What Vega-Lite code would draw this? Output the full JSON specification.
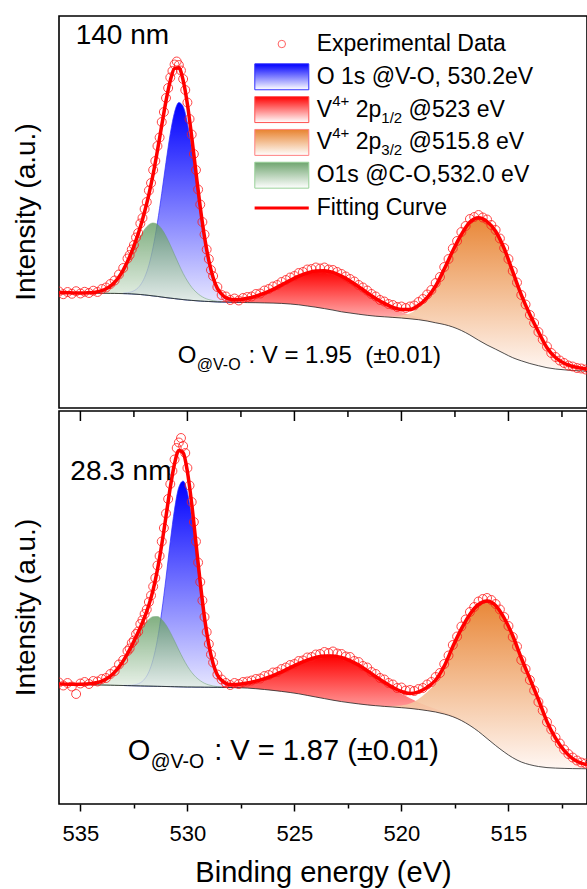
{
"$schema": "https://vega.github.io/schema/vega-lite/v6.json",
"background": "white",
"padding": {"left": 12, "top": 15, "right": 0, "bottom": 0},
"spacing": 0,
"config": {"font": "Liberation Sans", "view": {"stroke": "black", "strokeWidth": 1.6}, "axis": {"labelFont": "Liberation Sans", "titleFont": "Liberation Sans", "titleFontWeight": "normal", "labelColor": "black", "titleColor": "black", "tickColor": "black", "grid": false}, "text": {"font": "Liberation Sans", "color": "black"}, "concat": {"spacing": 0}},
"datasets": {
"tc": [
{"e":536.0,"bg":115.3,"fit":115.3},{"e":535.8,"bg":115.2,"fit":115.2},{"e":535.6,"bg":115.2,"fit":115.2},{"e":535.4,"bg":115.1,"fit":115.1},{"e":535.2,"bg":115.0,"fit":115.0},
{"e":535.0,"bg":115.0,"fit":115.1,"g":115.1},{"e":534.8,"bg":114.9,"fit":115.1,"g":115.1},{"e":534.6,"bg":114.9,"fit":115.3,"g":115.3},{"e":534.4,"bg":114.8,"fit":115.6,"g":115.6},{"e":534.2,"bg":114.8,"fit":116.3,"g":116.3},
{"e":534.0,"bg":114.7,"fit":117.4,"g":117.4},{"e":533.8,"bg":114.7,"fit":119.2,"g":119.2},{"e":533.6,"bg":114.6,"fit":121.9,"g":121.9},{"e":533.4,"bg":114.6,"fit":125.8,"g":125.8},{"e":533.2,"bg":114.5,"fit":131.0,"g":130.9},
{"e":533.0,"bg":114.4,"fit":137.9,"g":137.5,"b":114.8},{"e":532.8,"bg":114.3,"fit":146.5,"g":145.5,"b":115.3},{"e":532.6,"bg":114.1,"fit":156.4,"g":154.2,"b":116.3},{"e":532.4,"bg":113.8,"fit":167.9,"g":163.2,"b":118.5},{"e":532.2,"bg":113.5,"fit":181.1,"g":171.7,"b":122.9},
{"e":532.0,"bg":113.1,"fit":196.2,"g":178.7,"b":130.6},{"e":531.8,"bg":112.6,"fit":213.6,"g":183.3,"b":142.9},{"e":531.6,"bg":112.1,"fit":234.0,"g":185.0,"b":161.1},{"e":531.4,"bg":111.6,"fit":257.5,"g":183.6,"b":185.5},{"e":531.2,"bg":111.0,"fit":282.6,"g":179.0,"b":214.6},
{"e":531.0,"bg":110.4,"fit":307.1,"g":171.8,"b":245.7},{"e":530.8,"bg":109.9,"fit":327.4,"g":162.9,"b":274.4},{"e":530.6,"bg":109.4,"fit":339.6,"g":153.2,"b":295.8},{"e":530.4,"bg":108.9,"fit":340.2,"g":143.6,"b":305.5},{"e":530.2,"bg":108.4,"fit":327.7,"g":134.6,"b":301.5},
{"e":530.0,"bg":108.0,"fit":303.7,"g":127.0,"b":284.7},{"e":529.8,"bg":107.6,"fit":271.2,"g":120.7,"b":258.1},{"e":529.6,"bg":107.3,"fit":235.5,"g":116.0,"b":226.8},{"e":529.4,"bg":107.0,"fit":200.8,"g":112.5,"b":195.3},{"e":529.2,"bg":106.7,"fit":170.9,"g":110.0,"b":167.6},
{"e":529.0,"bg":106.5,"fit":147.4,"g":108.4,"b":145.5},{"e":528.8,"bg":106.3,"fit":130.6,"g":107.4,"b":129.5},{"e":528.6,"bg":106.1,"fit":119.6,"g":106.7,"b":119.0},{"e":528.4,"bg":106.0,"fit":113.9,"g":106.3,"b":112.7,"r":106.9},{"e":528.2,"bg":105.9,"fit":110.2,"b":109.1,"r":107.0},
{"e":528.0,"bg":105.8,"fit":108.8,"b":107.3,"r":107.3},{"e":527.8,"bg":105.7,"fit":108.3,"b":106.3,"r":107.7},{"e":527.6,"bg":105.6,"fit":108.4,"b":105.8,"r":108.2},{"e":527.2,"bg":105.4,"fit":109.7,"r":109.7},{"e":526.8,"bg":105.3,"fit":111.9,"r":111.9},
{"e":526.4,"bg":105.1,"fit":114.9,"r":114.9},{"e":526.0,"bg":104.9,"fit":118.7,"r":118.7},{"e":525.6,"bg":104.6,"fit":123.1,"r":123.1},{"e":525.2,"bg":104.0,"fit":127.6,"r":127.6},{"e":524.8,"bg":103.2,"fit":131.8,"r":131.8},
{"e":524.4,"bg":102.0,"fit":135.0,"r":135.0},{"e":524.0,"bg":100.8,"fit":137.0,"r":137.0},{"e":523.6,"bg":99.4,"fit":137.2,"r":137.2},{"e":523.2,"bg":97.9,"fit":135.6,"r":135.6},{"e":522.8,"bg":96.2,"fit":131.9,"r":131.9},
{"e":522.4,"bg":95.0,"fit":127.1,"r":127.1},{"e":522.0,"bg":93.8,"fit":121.4,"r":121.4},{"e":521.6,"bg":92.7,"fit":115.3,"r":115.2,"o":92.8},{"e":521.2,"bg":91.8,"fit":109.5,"r":109.3,"o":92.0},{"e":520.8,"bg":91.2,"fit":104.6,"r":104.2,"o":91.6},
{"e":520.4,"bg":90.6,"fit":100.7,"r":99.7,"o":91.6},{"e":520.0,"bg":90.0,"fit":98.6,"r":96.1,"o":92.5},{"e":519.6,"bg":89.2,"fit":98.6,"r":93.1,"o":94.7},{"e":519.2,"bg":88.3,"fit":102.7,"r":90.7,"o":100.3},{"e":518.8,"bg":87.0,"fit":110.4,"r":88.4,"o":109.0},
{"e":518.4,"bg":85.2,"fit":122.0,"r":86.0,"o":121.2},{"e":518.0,"bg":83.5,"fit":138.9,"r":83.9,"o":138.5},{"e":517.6,"bg":81.0,"fit":157.2,"r":81.2,"o":157.0},{"e":517.2,"bg":77.5,"fit":173.5,"o":173.5},{"e":516.8,"bg":73.0,"fit":186.0,"o":186.0},
{"e":516.4,"bg":67.8,"fit":190.3,"o":190.3},{"e":516.0,"bg":63.0,"fit":186.5,"o":186.5},{"e":515.6,"bg":58.8,"fit":176.8,"o":176.8},{"e":515.2,"bg":54.5,"fit":159.5,"o":159.5},{"e":514.8,"bg":50.3,"fit":136.3,"o":136.3},
{"e":514.4,"bg":47.2,"fit":113.2,"o":113.2},{"e":514.0,"bg":44.5,"fit":93.5,"o":93.5},{"e":513.6,"bg":42.3,"fit":76.3,"o":76.3},{"e":513.2,"bg":40.3,"fit":60.3,"o":60.3},{"e":512.8,"bg":39.0,"fit":50.5,"o":50.5},
{"e":512.4,"bg":38.2,"fit":44.7,"o":44.7},{"e":512.0,"bg":37.5,"fit":41.5,"o":41.5},{"e":511.6,"bg":37.1,"fit":39.9,"o":39.9},{"e":511.2,"bg":36.8,"fit":38.4,"o":38.4}
],
"tx": [
{"e":536.0,"v":116.5},{"e":535.8,"v":113.8},{"e":535.6,"v":116.0},{"e":535.4,"v":114.2},{"e":535.2,"v":116.8},{"e":535.0,"v":114.5},{"e":534.8,"v":116.2},{"e":534.6,"v":115.0},{"e":534.4,"v":117.3},{"e":534.2,"v":116.0},
{"e":534.0,"v":119.0},{"e":533.8,"v":120.5},{"e":533.6,"v":124.0},{"e":533.4,"v":127.5},{"e":533.2,"v":133.5},{"e":533.0,"v":140.0},{"e":532.8,"v":149.5},{"e":532.7,"v":153.0},{"e":532.6,"v":158.5},{"e":532.5,"v":163.0},
{"e":532.4,"v":170.5},{"e":532.3,"v":175.0},{"e":532.2,"v":184.5},{"e":532.1,"v":190.0},{"e":532.0,"v":199.0},{"e":531.9,"v":206.0},{"e":531.8,"v":217.5},{"e":531.7,"v":225.0},{"e":531.6,"v":238.0},{"e":531.5,"v":247.0},
{"e":531.4,"v":262.0},{"e":531.3,"v":270.5},{"e":531.2,"v":286.0},{"e":531.1,"v":296.0},{"e":531.0,"v":310.0},{"e":530.9,"v":320.0},{"e":530.8,"v":330.5},{"e":530.7,"v":337.0},{"e":530.6,"v":343.5},{"e":530.5,"v":346.5},
{"e":530.4,"v":343.0},{"e":530.3,"v":337.5},{"e":530.2,"v":329.0},{"e":530.1,"v":318.0},{"e":530.0,"v":305.5},{"e":529.9,"v":289.0},{"e":529.8,"v":273.5},{"e":529.7,"v":254.0},{"e":529.6,"v":238.0},{"e":529.5,"v":218.5},
{"e":529.4,"v":203.5},{"e":529.3,"v":186.0},{"e":529.2,"v":173.5},{"e":529.1,"v":158.5},{"e":529.0,"v":149.0},{"e":528.9,"v":138.0},{"e":528.8,"v":132.0},{"e":528.6,"v":121.0},{"e":528.4,"v":113.0},{"e":528.2,"v":111.5},
{"e":528.0,"v":108.0},{"e":527.8,"v":109.5},{"e":527.6,"v":107.5},{"e":527.4,"v":110.0},{"e":527.2,"v":111.0},{"e":527.0,"v":111.5},{"e":526.8,"v":114.0},{"e":526.6,"v":114.5},{"e":526.4,"v":117.5},{"e":526.2,"v":119.0},
{"e":526.0,"v":121.5},{"e":525.8,"v":123.0},{"e":525.6,"v":126.0},{"e":525.4,"v":128.0},{"e":525.2,"v":130.5},{"e":525.0,"v":132.0},{"e":524.8,"v":135.0},{"e":524.6,"v":136.0},{"e":524.4,"v":138.5},{"e":524.2,"v":139.0},
{"e":524.0,"v":140.5},{"e":523.8,"v":139.5},{"e":523.6,"v":140.5},{"e":523.4,"v":138.5},{"e":523.2,"v":138.0},{"e":523.0,"v":136.0},{"e":522.8,"v":134.0},{"e":522.6,"v":131.5},{"e":522.4,"v":129.0},{"e":522.2,"v":126.5},
{"e":522.0,"v":123.0},{"e":521.8,"v":120.5},{"e":521.6,"v":117.5},{"e":521.4,"v":114.0},{"e":521.2,"v":111.5},{"e":521.0,"v":108.0},{"e":520.8,"v":106.5},{"e":520.6,"v":104.0},{"e":520.4,"v":103.0},{"e":520.2,"v":101.0},
{"e":520.0,"v":101.5},{"e":519.8,"v":100.0},{"e":519.6,"v":101.5},{"e":519.4,"v":102.5},{"e":519.2,"v":106.0},{"e":519.0,"v":109.0},{"e":518.8,"v":113.5},{"e":518.6,"v":118.0},{"e":518.4,"v":125.0},{"e":518.2,"v":131.0},
{"e":518.0,"v":141.0},{"e":517.8,"v":149.0},{"e":517.6,"v":159.5},{"e":517.4,"v":167.0},{"e":517.2,"v":176.0},{"e":517.0,"v":182.0},{"e":516.8,"v":189.0},{"e":516.6,"v":191.0},{"e":516.4,"v":193.0},{"e":516.2,"v":190.5},
{"e":516.0,"v":188.5},{"e":515.8,"v":183.0},{"e":515.6,"v":178.0},{"e":515.4,"v":169.5},{"e":515.2,"v":160.0},{"e":515.0,"v":149.0},{"e":514.8,"v":137.0},{"e":514.6,"v":125.5},{"e":514.4,"v":113.0},{"e":514.2,"v":103.5},
{"e":514.0,"v":93.0},{"e":513.8,"v":85.0},{"e":513.6,"v":76.0},{"e":513.4,"v":68.5},{"e":513.2,"v":61.5},{"e":513.0,"v":55.0},{"e":512.8,"v":51.0},{"e":512.6,"v":47.5},{"e":512.4,"v":45.0},{"e":512.2,"v":42.5},
{"e":512.0,"v":41.5},{"e":511.8,"v":40.0},{"e":511.6,"v":39.5},{"e":511.4,"v":38.5},{"e":511.2,"v":38.0}
],
"bc": [
{"e":536.0,"bg":120.0,"fit":120.0},{"e":535.8,"bg":119.9,"fit":119.9},{"e":535.6,"bg":119.8,"fit":119.8},{"e":535.4,"bg":119.7,"fit":119.7},{"e":535.2,"bg":119.6,"fit":119.6},
{"e":535.0,"bg":119.5,"fit":119.8,"g":119.8},{"e":534.8,"bg":119.4,"fit":119.9,"g":119.9},{"e":534.6,"bg":119.3,"fit":120.2,"g":120.2},{"e":534.4,"bg":119.2,"fit":120.7,"g":120.7},{"e":534.2,"bg":119.1,"fit":121.5,"g":121.5},
{"e":534.0,"bg":119.0,"fit":122.9,"g":122.9},{"e":533.8,"bg":118.9,"fit":125.0,"g":125.0},{"e":533.6,"bg":118.8,"fit":127.9,"g":127.9},{"e":533.4,"bg":118.7,"fit":131.9,"g":131.9},{"e":533.2,"bg":118.6,"fit":136.9,"g":136.9},
{"e":533.0,"bg":118.5,"fit":143.1,"g":143.0,"b":118.6},{"e":532.8,"bg":118.4,"fit":150.4,"g":150.2,"b":118.6},{"e":532.6,"bg":118.3,"fit":158.4,"g":157.9,"b":118.8},{"e":532.4,"bg":118.2,"fit":167.2,"g":165.9,"b":119.5},{"e":532.2,"bg":118.1,"fit":176.5,"g":173.4,"b":121.2},
{"e":532.0,"bg":118.0,"fit":186.9,"g":179.9,"b":125.0},{"e":531.8,"bg":117.9,"fit":199.0,"g":184.7,"b":132.2},{"e":531.6,"bg":117.8,"fit":214.3,"g":187.3,"b":144.8},{"e":531.4,"bg":117.7,"fit":234.3,"g":187.5,"b":164.5},{"e":531.2,"bg":117.6,"fit":259.2,"g":184.6,"b":192.2},
{"e":531.0,"bg":117.5,"fit":287.7,"g":179.1,"b":226.1},{"e":530.8,"bg":117.4,"fit":316.6,"g":171.6,"b":262.4},{"e":530.6,"bg":117.3,"fit":340.5,"g":162.9,"b":294.9},{"e":530.4,"bg":117.2,"fit":353.5,"g":153.9,"b":316.8},{"e":530.2,"bg":117.1,"fit":351.2,"g":145.4,"b":322.9},
{"e":530.0,"bg":117.0,"fit":332.3,"g":137.8,"b":311.5},{"e":529.8,"bg":117.0,"fit":300.3,"g":131.6,"b":285.7},{"e":529.6,"bg":116.9,"fit":260.9,"g":126.8,"b":251.0},{"e":529.4,"bg":116.9,"fit":221.2,"g":123.3,"b":214.8},{"e":529.2,"bg":116.8,"fit":186.0,"g":120.7,"b":182.1},
{"e":529.0,"bg":116.8,"fit":159.3,"g":119.1,"b":157.0},{"e":528.8,"bg":116.7,"fit":140.6,"g":118.0,"b":139.3},{"e":528.6,"bg":116.7,"fit":129.0,"g":117.4,"b":128.3},{"e":528.4,"bg":116.6,"fit":123.7,"g":117.0,"b":122.1,"r":117.8},{"e":528.2,"bg":116.6,"fit":120.6,"b":119.0,"r":118.2},
{"e":528.0,"bg":116.5,"fit":119.5,"b":117.4,"r":118.6},{"e":527.8,"bg":116.4,"fit":119.4,"b":116.8,"r":119.0},{"e":527.6,"bg":116.3,"fit":119.7,"b":116.4,"r":119.6},{"e":527.2,"bg":115.9,"fit":121.0,"r":121.0},{"e":526.8,"bg":115.3,"fit":122.9,"r":122.9},
{"e":526.4,"bg":114.5,"fit":125.3,"r":125.3},{"e":526.0,"bg":113.6,"fit":128.4,"r":128.4},{"e":525.6,"bg":112.6,"fit":132.2,"r":132.2},{"e":525.2,"bg":111.5,"fit":136.3,"r":136.3},{"e":524.8,"bg":110.2,"fit":140.3,"r":140.3},
{"e":524.4,"bg":108.6,"fit":143.8,"r":143.8},{"e":524.0,"bg":107.0,"fit":146.6,"r":146.6},{"e":523.6,"bg":105.4,"fit":148.1,"r":148.1},{"e":523.2,"bg":103.8,"fit":148.1,"r":148.1},{"e":522.8,"bg":102.4,"fit":146.5,"r":146.5},
{"e":522.4,"bg":101.2,"fit":143.4,"r":143.4},{"e":522.0,"bg":100.1,"fit":138.9,"r":138.9},{"e":521.6,"bg":99.1,"fit":133.4,"r":133.4},{"e":521.2,"bg":98.3,"fit":127.5,"r":127.4,"o":98.4},{"e":520.8,"bg":97.6,"fit":121.7,"r":121.3,"o":98.0},
{"e":520.4,"bg":97.0,"fit":116.6,"r":115.6,"o":98.0},{"e":520.0,"bg":96.3,"fit":112.5,"r":110.3,"o":98.5},{"e":519.6,"bg":95.6,"fit":110.5,"r":105.7,"o":100.4},{"e":519.2,"bg":94.6,"fit":112.1,"r":101.6,"o":105.1},{"e":518.8,"bg":93.4,"fit":116.6,"r":98.1,"o":111.9},
{"e":518.4,"bg":92.0,"fit":124.0,"r":95.0,"o":121.0},{"e":518.0,"bg":90.0,"fit":137.9,"r":91.9,"o":136.0},{"e":517.6,"bg":87.3,"fit":157.4,"r":88.4,"o":156.3},{"e":517.2,"bg":83.5,"fit":175.1,"r":84.1,"o":174.5},{"e":516.8,"bg":78.5,"fit":189.8,"r":78.8,"o":189.5},
{"e":516.4,"bg":72.5,"fit":199.5,"o":199.5},{"e":516.0,"bg":65.5,"fit":203.0,"o":203.0},{"e":515.6,"bg":58.5,"fit":198.5,"o":198.5},{"e":515.2,"bg":52.0,"fit":186.0,"o":186.0},{"e":514.8,"bg":46.3,"fit":168.3,"o":168.3},
{"e":514.4,"bg":42.0,"fit":146.0,"o":146.0},{"e":514.0,"bg":39.3,"fit":125.3,"o":125.3},{"e":513.6,"bg":37.5,"fit":104.5,"o":104.5},{"e":513.2,"bg":36.4,"fit":82.4,"o":82.4},{"e":512.8,"bg":35.9,"fit":65.9,"o":65.9},
{"e":512.4,"bg":35.6,"fit":53.6,"o":53.6},{"e":512.0,"bg":35.4,"fit":45.4,"o":45.4},{"e":511.6,"bg":35.3,"fit":40.8,"o":40.8},{"e":511.2,"bg":35.2,"fit":38.8,"o":38.8}
],
"bx": [
{"e":536.0,"v":121.5},{"e":535.8,"v":118.5},{"e":535.6,"v":121.0},{"e":535.4,"v":117.5},{"e":535.2,"v":110.0},{"e":535.0,"v":120.5},{"e":534.8,"v":122.0},{"e":534.6,"v":120.0},{"e":534.4,"v":123.0},{"e":534.2,"v":122.5},
{"e":534.0,"v":125.0},{"e":533.8,"v":126.0},{"e":533.6,"v":130.0},{"e":533.4,"v":133.0},{"e":533.2,"v":139.5},{"e":533.0,"v":144.0},{"e":532.8,"v":153.0},{"e":532.7,"v":155.5},{"e":532.6,"v":161.0},{"e":532.5,"v":163.5},
{"e":532.4,"v":170.0},{"e":532.3,"v":172.5},{"e":532.2,"v":180.0},{"e":532.1,"v":184.0},{"e":532.0,"v":190.0},{"e":531.9,"v":194.5},{"e":531.8,"v":202.0},{"e":531.7,"v":208.5},{"e":531.6,"v":217.5},{"e":531.5,"v":226.0},
{"e":531.4,"v":238.5},{"e":531.3,"v":248.0},{"e":531.2,"v":262.5},{"e":531.1,"v":276.0},{"e":531.0,"v":290.5},{"e":530.9,"v":305.0},{"e":530.8,"v":320.0},{"e":530.7,"v":333.0},{"e":530.6,"v":344.5},{"e":530.5,"v":356.0},
{"e":530.4,"v":361.5},{"e":530.3,"v":366.0},{"e":530.2,"v":358.0},{"e":530.1,"v":351.0},{"e":530.0,"v":336.0},{"e":529.9,"v":318.5},{"e":529.8,"v":302.0},{"e":529.7,"v":282.0},{"e":529.6,"v":262.5},{"e":529.5,"v":241.5},
{"e":529.4,"v":222.0},{"e":529.3,"v":203.5},{"e":529.2,"v":187.0},{"e":529.1,"v":172.0},{"e":529.0,"v":160.0},{"e":528.9,"v":149.5},{"e":528.8,"v":141.5},{"e":528.6,"v":129.5},{"e":528.4,"v":124.5},{"e":528.2,"v":121.0},
{"e":528.0,"v":119.0},{"e":527.8,"v":121.0},{"e":527.6,"v":120.0},{"e":527.4,"v":122.0},{"e":527.2,"v":122.5},{"e":527.0,"v":123.5},{"e":526.8,"v":125.0},{"e":526.6,"v":125.5},{"e":526.4,"v":128.0},{"e":526.2,"v":129.0},
{"e":526.0,"v":131.5},{"e":525.8,"v":132.0},{"e":525.6,"v":135.0},{"e":525.4,"v":136.5},{"e":525.2,"v":139.0},{"e":525.0,"v":140.0},{"e":524.8,"v":143.0},{"e":524.6,"v":143.5},{"e":524.4,"v":146.5},{"e":524.2,"v":147.0},
{"e":524.0,"v":149.5},{"e":523.8,"v":150.0},{"e":523.6,"v":152.0},{"e":523.4,"v":151.0},{"e":523.2,"v":152.5},{"e":523.0,"v":150.5},{"e":522.8,"v":150.0},{"e":522.6,"v":147.5},{"e":522.4,"v":147.0},{"e":522.2,"v":143.0},
{"e":522.0,"v":142.0},{"e":521.8,"v":138.0},{"e":521.6,"v":136.5},{"e":521.4,"v":132.0},{"e":521.2,"v":130.0},{"e":521.0,"v":126.0},{"e":520.8,"v":124.5},{"e":520.6,"v":121.0},{"e":520.4,"v":119.5},{"e":520.2,"v":116.0},
{"e":520.0,"v":116.5},{"e":519.8,"v":113.5},{"e":519.6,"v":114.0},{"e":519.4,"v":113.0},{"e":519.2,"v":115.0},{"e":519.0,"v":116.0},{"e":518.8,"v":119.5},{"e":518.6,"v":122.0},{"e":518.4,"v":127.0},{"e":518.2,"v":131.0},
{"e":518.0,"v":140.0},{"e":517.8,"v":148.5},{"e":517.6,"v":159.0},{"e":517.4,"v":167.5},{"e":517.2,"v":177.5},{"e":517.0,"v":184.5},{"e":516.8,"v":192.0},{"e":516.6,"v":197.0},{"e":516.4,"v":202.5},{"e":516.2,"v":205.0},
{"e":516.0,"v":206.0},{"e":515.8,"v":204.0},{"e":515.6,"v":200.0},{"e":515.4,"v":194.5},{"e":515.2,"v":187.0},{"e":515.0,"v":178.0},{"e":514.8,"v":167.0},{"e":514.6,"v":157.5},{"e":514.4,"v":144.0},{"e":514.2,"v":135.0},
{"e":514.0,"v":124.0},{"e":513.8,"v":113.5},{"e":513.6,"v":102.0},{"e":513.4,"v":93.5},{"e":513.2,"v":82.0},{"e":513.0,"v":74.5},{"e":512.8,"v":66.5},{"e":512.6,"v":60.5},{"e":512.4,"v":54.5},{"e":512.2,"v":50.0},
{"e":512.0,"v":46.5},{"e":511.8,"v":43.5},{"e":511.6,"v":41.5},{"e":511.4,"v":40.5},{"e":511.2,"v":39.5}
],
"lg": [{"k":0,"t":"Experimental Data"},{"k":1,"t":"O 1s @V-O, 530.2eV"},{"k":2,"t":"V"},{"k":3,"t":"V"},{"k":4,"t":"O1s @C-O,532.0 eV"},{"k":5,"t":"Fitting Curve"}],
"lsup": [{"k":2,"t":"4+"},{"k":3,"t":"4+"}],
"l2p": [{"k":2,"t":"2p"},{"k":3,"t":"2p"}],
"lsub": [{"k":2,"t":"1/2"},{"k":3,"t":"3/2"}],
"lend": [{"k":2,"t":"@523 eV"},{"k":3,"t":"@515.8 eV"}],
"tmaj": [{"v":535},{"v":530},{"v":525},{"v":520},{"v":515}],
"tmin": [{"v":532.5},{"v":527.5},{"v":522.5},{"v":517.5},{"v":512.5}]
},
"vconcat": [
{
"width": 528, "height": 392,
"resolve": {"scale": {"y": "independent"}},
"layer": [
{"layer": [
{"data": {"name": "tc"}, "transform": [{"filter": "isValid(datum.b)"}],
 "mark": {"type": "area", "clip": true, "interpolate": "monotone", "stroke": "#2a2aff", "strokeWidth": 0.7, "color": {"gradient": "linear", "x1": 0, "y1": 0, "x2": 0, "y2": 1, "stops": [{"offset": 0, "color": "#0000ff"}, {"offset": 1, "color": "#e6e6ff"}]}},
 "encoding": {"x": {"field": "e", "type": "quantitative", "scale": {"domain": [511.33, 536], "reverse": true, "nice": false, "zero": false}, "axis": null},
  "y": {"field": "b", "type": "quantitative", "scale": {"domain": [0, 392], "nice": false, "zero": false}, "axis": null},
  "y2": {"field": "bg"}}},
{"data": {"name": "tc"}, "transform": [{"filter": "isValid(datum.g)"}],
 "mark": {"type": "area", "clip": true, "interpolate": "monotone", "opacity": 0.78, "stroke": "#5f9a5f", "strokeWidth": 0.6, "color": {"gradient": "linear", "x1": 0, "y1": 0, "x2": 0, "y2": 1, "stops": [{"offset": 0, "color": "#5f9a5f"}, {"offset": 1, "color": "#e4efe4"}]}},
 "encoding": {"x": {"field": "e", "type": "quantitative", "scale": {"domain": [511.33, 536], "reverse": true, "nice": false, "zero": false}, "axis": null},
  "y": {"field": "g", "type": "quantitative", "scale": {"domain": [0, 392], "nice": false, "zero": false}, "axis": null}, "y2": {"field": "bg"}}},
{"data": {"name": "tc"}, "transform": [{"filter": "isValid(datum.r)"}],
 "mark": {"type": "area", "clip": true, "interpolate": "monotone", "color": {"gradient": "linear", "x1": 0, "y1": 0, "x2": 0, "y2": 1, "stops": [{"offset": 0, "color": "#ff0000"}, {"offset": 1, "color": "#ffd0d0"}]}},
 "encoding": {"x": {"field": "e", "type": "quantitative", "scale": {"domain": [511.33, 536], "reverse": true, "nice": false, "zero": false}, "axis": null},
  "y": {"field": "r", "type": "quantitative", "scale": {"domain": [0, 392], "nice": false, "zero": false}, "axis": null}, "y2": {"field": "bg"}}},
{"data": {"name": "tc"}, "transform": [{"filter": "isValid(datum.o)"}],
 "mark": {"type": "area", "clip": true, "interpolate": "monotone", "opacity": 0.9, "color": {"gradient": "linear", "x1": 0, "y1": 0, "x2": 0, "y2": 1, "stops": [{"offset": 0, "color": "#e67a22"}, {"offset": 1, "color": "#fff6f2"}]}},
 "encoding": {"x": {"field": "e", "type": "quantitative", "scale": {"domain": [511.33, 536], "reverse": true, "nice": false, "zero": false}, "axis": null},
  "y": {"field": "o", "type": "quantitative", "scale": {"domain": [0, 392], "nice": false, "zero": false}, "axis": null}, "y2": {"field": "bg"}}},
{"data": {"name": "tc"},
 "mark": {"type": "line", "clip": true, "interpolate": "monotone", "color": "#222222", "strokeWidth": 0.8},
 "encoding": {"x": {"field": "e", "type": "quantitative", "scale": {"domain": [511.33, 536], "reverse": true, "nice": false, "zero": false}, "axis": null},
  "y": {"field": "bg", "type": "quantitative", "scale": {"domain": [0, 392], "nice": false, "zero": false}, "axis": null}}},
{"data": {"name": "tx"},
 "mark": {"type": "point", "clip": true, "filled": false, "color": "#ff1a1a", "strokeWidth": 1, "size": 80, "opacity": 0.8},
 "encoding": {"x": {"field": "e", "type": "quantitative", "scale": {"domain": [511.33, 536], "reverse": true, "nice": false, "zero": false}, "axis": null},
  "y": {"field": "v", "type": "quantitative", "scale": {"domain": [0, 392], "nice": false, "zero": false}, "axis": null}}},
{"data": {"name": "tc"},
 "mark": {"type": "line", "clip": true, "interpolate": "monotone", "color": "#ff0000", "strokeWidth": 3.5},
 "encoding": {"x": {"field": "e", "type": "quantitative", "scale": {"domain": [511.33, 536], "reverse": true, "nice": false, "zero": false}, "axis": null},
  "y": {"field": "fit", "type": "quantitative", "scale": {"domain": [0, 392], "nice": false, "zero": false}, "axis": null}}},
{"data": {"values": [{"t": "Intensity (a.u.)"}]},
 "mark": {"type": "text", "align": "center", "baseline": "middle", "angle": 270, "fontSize": 28},
 "encoding": {"text": {"field": "t"}, "x": {"datum": 537.5, "scale": {"domain": [511.33, 536], "reverse": true, "nice": false, "zero": false}, "axis": null},
  "y": {"datum": 196, "scale": {"domain": [0, 392], "nice": false, "zero": false}, "axis": null}}},
{"data": {"values": [{"t": "140 nm"}]},
 "mark": {"type": "text", "align": "left", "baseline": "alphabetic", "fontSize": 28},
 "encoding": {"text": {"field": "t"}, "x": {"datum": 535.22, "scale": {"domain": [511.33, 536], "reverse": true, "nice": false, "zero": false}, "axis": null},
  "y": {"datum": 364, "scale": {"domain": [0, 392], "nice": false, "zero": false}, "axis": null}}},
{"data": {"values": [{"t": "O"}]},
 "mark": {"type": "text", "align": "left", "baseline": "alphabetic", "fontSize": 24},
 "encoding": {"text": {"field": "t"}, "x": {"datum": 530.45, "scale": {"domain": [511.33, 536], "reverse": true, "nice": false, "zero": false}, "axis": null},
  "y": {"datum": 45, "scale": {"domain": [0, 392], "nice": false, "zero": false}, "axis": null}}},
{"data": {"values": [{"t": "@V-O"}]},
 "mark": {"type": "text", "align": "left", "baseline": "alphabetic", "fontSize": 16},
 "encoding": {"text": {"field": "t"}, "x": {"datum": 529.56, "scale": {"domain": [511.33, 536], "reverse": true, "nice": false, "zero": false}, "axis": null},
  "y": {"datum": 38, "scale": {"domain": [0, 392], "nice": false, "zero": false}, "axis": null}}},
{"data": {"values": [{"t": ": V = 1.95\u00a0 (±0.01)"}]},
 "mark": {"type": "text", "align": "left", "baseline": "alphabetic", "fontSize": 24},
 "encoding": {"text": {"field": "t"}, "x": {"datum": 527.15, "scale": {"domain": [511.33, 536], "reverse": true, "nice": false, "zero": false}, "axis": null},
  "y": {"datum": 45, "scale": {"domain": [0, 392], "nice": false, "zero": false}, "axis": null}}}
]},
{"layer": [
{"data": {"values": [{"k": 0}]},
 "mark": {"type": "point", "filled": false, "color": "#ff2020", "strokeWidth": 1, "size": 55},
 "encoding": {"x": {"datum": 525.59, "scale": {"domain": [511.33, 536], "reverse": true, "nice": false, "zero": false}, "axis": null},
  "y": {"field": "k", "type": "quantitative", "scale": {"domain": [-0.854, 11.098], "reverse": true, "nice": false, "zero": false}, "axis": null}}},
{"data": {"values": [{"k": 1}]},
 "mark": {"type": "point", "shape": "M-1,-0.48L1,-0.48L1,0.48L-1,0.48Z", "size": 2916, "opacity": 1, "strokeWidth": 1, "stroke": "#3030ff", "fill": {"gradient": "linear", "x1": 0, "y1": 0, "x2": 0, "y2": 1, "stops": [{"offset": 0, "color": "#0000ff"}, {"offset": 1, "color": "#ffffff"}]}},
 "encoding": {"x": {"datum": 525.59, "scale": {"domain": [511.33, 536], "reverse": true, "nice": false, "zero": false}, "axis": null},
  "y": {"field": "k", "type": "quantitative", "scale": {"domain": [-0.854, 11.098], "reverse": true, "nice": false, "zero": false}, "axis": null}}},
{"data": {"values": [{"k": 2}]},
 "mark": {"type": "point", "shape": "M-1,-0.48L1,-0.48L1,0.48L-1,0.48Z", "size": 2916, "opacity": 1, "strokeWidth": 1, "stroke": "#ff5050", "fill": {"gradient": "linear", "x1": 0, "y1": 0, "x2": 0, "y2": 1, "stops": [{"offset": 0, "color": "#ff0000"}, {"offset": 1, "color": "#ffffff"}]}},
 "encoding": {"x": {"datum": 525.59, "scale": {"domain": [511.33, 536], "reverse": true, "nice": false, "zero": false}, "axis": null},
  "y": {"field": "k", "type": "quantitative", "scale": {"domain": [-0.854, 11.098], "reverse": true, "nice": false, "zero": false}, "axis": null}}},
{"data": {"values": [{"k": 3}]},
 "mark": {"type": "point", "shape": "M-1,-0.48L1,-0.48L1,0.48L-1,0.48Z", "size": 2916, "opacity": 1, "strokeWidth": 1, "stroke": "#ff8080", "fill": {"gradient": "linear", "x1": 0, "y1": 0, "x2": 0, "y2": 1, "stops": [{"offset": 0, "color": "#e8822e"}, {"offset": 1, "color": "#ffffff"}]}},
 "encoding": {"x": {"datum": 525.59, "scale": {"domain": [511.33, 536], "reverse": true, "nice": false, "zero": false}, "axis": null},
  "y": {"field": "k", "type": "quantitative", "scale": {"domain": [-0.854, 11.098], "reverse": true, "nice": false, "zero": false}, "axis": null}}},
{"data": {"values": [{"k": 4}]},
 "mark": {"type": "point", "shape": "M-1,-0.48L1,-0.48L1,0.48L-1,0.48Z", "size": 2916, "opacity": 1, "strokeWidth": 1, "stroke": "#98d098", "fill": {"gradient": "linear", "x1": 0, "y1": 0, "x2": 0, "y2": 1, "stops": [{"offset": 0, "color": "#6fa56f"}, {"offset": 1, "color": "#ffffff"}]}},
 "encoding": {"x": {"datum": 525.59, "scale": {"domain": [511.33, 536], "reverse": true, "nice": false, "zero": false}, "axis": null},
  "y": {"field": "k", "type": "quantitative", "scale": {"domain": [-0.854, 11.098], "reverse": true, "nice": false, "zero": false}, "axis": null}}},
{"data": {"values": [{"k": 5}]},
 "mark": {"type": "rule", "color": "#ff0000", "strokeWidth": 3},
 "encoding": {"x": {"datum": 526.86, "scale": {"domain": [511.33, 536], "reverse": true, "nice": false, "zero": false}, "axis": null}, "x2": {"datum": 524.33},
  "y": {"field": "k", "type": "quantitative", "scale": {"domain": [-0.854, 11.098], "reverse": true, "nice": false, "zero": false}, "axis": null}}},
{"data": {"name": "lg"},
 "mark": {"type": "text", "align": "left", "baseline": "middle", "fontSize": 23},
 "encoding": {"text": {"field": "t"}, "x": {"datum": 523.96, "scale": {"domain": [511.33, 536], "reverse": true, "nice": false, "zero": false}, "axis": null},
  "y": {"field": "k", "type": "quantitative", "scale": {"domain": [-0.854, 11.098], "reverse": true, "nice": false, "zero": false}, "axis": null}}},
{"data": {"name": "lsup"},
 "mark": {"type": "text", "align": "left", "baseline": "middle", "fontSize": 15, "dx": 15.5, "dy": -9},
 "encoding": {"text": {"field": "t"}, "x": {"datum": 523.96, "scale": {"domain": [511.33, 536], "reverse": true, "nice": false, "zero": false}, "axis": null},
  "y": {"field": "k", "type": "quantitative", "scale": {"domain": [-0.854, 11.098], "reverse": true, "nice": false, "zero": false}, "axis": null}}},
{"data": {"name": "l2p"},
 "mark": {"type": "text", "align": "left", "baseline": "middle", "fontSize": 23, "dx": 39},
 "encoding": {"text": {"field": "t"}, "x": {"datum": 523.96, "scale": {"domain": [511.33, 536], "reverse": true, "nice": false, "zero": false}, "axis": null},
  "y": {"field": "k", "type": "quantitative", "scale": {"domain": [-0.854, 11.098], "reverse": true, "nice": false, "zero": false}, "axis": null}}},
{"data": {"name": "lsub"},
 "mark": {"type": "text", "align": "left", "baseline": "middle", "fontSize": 15, "dx": 64.6, "dy": 8},
 "encoding": {"text": {"field": "t"}, "x": {"datum": 523.96, "scale": {"domain": [511.33, 536], "reverse": true, "nice": false, "zero": false}, "axis": null},
  "y": {"field": "k", "type": "quantitative", "scale": {"domain": [-0.854, 11.098], "reverse": true, "nice": false, "zero": false}, "axis": null}}},
{"data": {"name": "lend"},
 "mark": {"type": "text", "align": "left", "baseline": "middle", "fontSize": 23, "dx": 91.9},
 "encoding": {"text": {"field": "t"}, "x": {"datum": 523.96, "scale": {"domain": [511.33, 536], "reverse": true, "nice": false, "zero": false}, "axis": null},
  "y": {"field": "k", "type": "quantitative", "scale": {"domain": [-0.854, 11.098], "reverse": true, "nice": false, "zero": false}, "axis": null}}}
]}
]
},
{
"width": 528, "height": 393,
"layer": [
{"data": {"name": "bc"}, "transform": [{"filter": "isValid(datum.b)"}],
 "mark": {"type": "area", "clip": true, "interpolate": "monotone", "stroke": "#2a2aff", "strokeWidth": 0.7, "color": {"gradient": "linear", "x1": 0, "y1": 0, "x2": 0, "y2": 1, "stops": [{"offset": 0, "color": "#0000ff"}, {"offset": 1, "color": "#e6e6ff"}]}},
 "encoding": {"x": {"field": "e", "type": "quantitative", "scale": {"domain": [511.33, 536], "reverse": true, "nice": false, "zero": false},
   "axis": {"orient": "bottom", "values": [535, 532.5, 530, 527.5, 525, 522.5, 520, 517.5, 515, 512.5], "labelExpr": "datum.value % 5 === 0 ? datum.label : ''", "tickSize": {"condition": {"test": "datum.value % 5 === 0", "value": 7}, "value": 4}, "tickWidth": 1.5, "domain": false, "labelFontSize": 22, "labelPadding": 12, "labelFlush": false, "labelOverlap": false, "title": "Binding energy (eV)", "titleFontSize": 29, "titlePadding": 14}},
  "y": {"field": "b", "type": "quantitative", "scale": {"domain": [0, 393], "nice": false, "zero": false}, "axis": null},
  "y2": {"field": "bg"}}},
{"data": {"name": "bc"}, "transform": [{"filter": "isValid(datum.g)"}],
 "mark": {"type": "area", "clip": true, "interpolate": "monotone", "opacity": 0.78, "stroke": "#5f9a5f", "strokeWidth": 0.6, "color": {"gradient": "linear", "x1": 0, "y1": 0, "x2": 0, "y2": 1, "stops": [{"offset": 0, "color": "#5f9a5f"}, {"offset": 1, "color": "#e4efe4"}]}},
 "encoding": {"x": {"field": "e", "type": "quantitative", "scale": {"domain": [511.33, 536], "reverse": true, "nice": false, "zero": false}},
  "y": {"field": "g", "type": "quantitative", "scale": {"domain": [0, 393], "nice": false, "zero": false}, "axis": null}, "y2": {"field": "bg"}}},
{"data": {"name": "bc"}, "transform": [{"filter": "isValid(datum.r)"}],
 "mark": {"type": "area", "clip": true, "interpolate": "monotone", "color": {"gradient": "linear", "x1": 0, "y1": 0, "x2": 0, "y2": 1, "stops": [{"offset": 0, "color": "#ff0000"}, {"offset": 1, "color": "#ffd0d0"}]}},
 "encoding": {"x": {"field": "e", "type": "quantitative", "scale": {"domain": [511.33, 536], "reverse": true, "nice": false, "zero": false}},
  "y": {"field": "r", "type": "quantitative", "scale": {"domain": [0, 393], "nice": false, "zero": false}, "axis": null}, "y2": {"field": "bg"}}},
{"data": {"name": "bc"}, "transform": [{"filter": "isValid(datum.o)"}],
 "mark": {"type": "area", "clip": true, "interpolate": "monotone", "opacity": 0.9, "color": {"gradient": "linear", "x1": 0, "y1": 0, "x2": 0, "y2": 1, "stops": [{"offset": 0, "color": "#e67a22"}, {"offset": 1, "color": "#fff6f2"}]}},
 "encoding": {"x": {"field": "e", "type": "quantitative", "scale": {"domain": [511.33, 536], "reverse": true, "nice": false, "zero": false}},
  "y": {"field": "o", "type": "quantitative", "scale": {"domain": [0, 393], "nice": false, "zero": false}, "axis": null}, "y2": {"field": "bg"}}},
{"data": {"name": "bc"},
 "mark": {"type": "line", "clip": true, "interpolate": "monotone", "color": "#222222", "strokeWidth": 0.8},
 "encoding": {"x": {"field": "e", "type": "quantitative", "scale": {"domain": [511.33, 536], "reverse": true, "nice": false, "zero": false}},
  "y": {"field": "bg", "type": "quantitative", "scale": {"domain": [0, 393], "nice": false, "zero": false}, "axis": null}}},
{"data": {"name": "bx"},
 "mark": {"type": "point", "clip": true, "filled": false, "color": "#ff1a1a", "strokeWidth": 1, "size": 80, "opacity": 0.8},
 "encoding": {"x": {"field": "e", "type": "quantitative", "scale": {"domain": [511.33, 536], "reverse": true, "nice": false, "zero": false}},
  "y": {"field": "v", "type": "quantitative", "scale": {"domain": [0, 393], "nice": false, "zero": false}, "axis": null}}},
{"data": {"name": "bc"},
 "mark": {"type": "line", "clip": true, "interpolate": "monotone", "color": "#ff0000", "strokeWidth": 3.5},
 "encoding": {"x": {"field": "e", "type": "quantitative", "scale": {"domain": [511.33, 536], "reverse": true, "nice": false, "zero": false}},
  "y": {"field": "fit", "type": "quantitative", "scale": {"domain": [0, 393], "nice": false, "zero": false}, "axis": null}}},
{"data": {"name": "tmaj"},
 "mark": {"type": "rule", "color": "black", "strokeWidth": 1.5},
 "encoding": {"x": {"field": "v", "type": "quantitative", "scale": {"domain": [511.33, 536], "reverse": true, "nice": false, "zero": false}},
  "y": {"datum": 393, "scale": {"domain": [0, 393], "nice": false, "zero": false}, "axis": null}, "y2": {"datum": 383}}},
{"data": {"name": "tmin"},
 "mark": {"type": "rule", "color": "black", "strokeWidth": 1.5},
 "encoding": {"x": {"field": "v", "type": "quantitative", "scale": {"domain": [511.33, 536], "reverse": true, "nice": false, "zero": false}},
  "y": {"datum": 393, "scale": {"domain": [0, 393], "nice": false, "zero": false}, "axis": null}, "y2": {"datum": 387}}},
{"data": {"values": [{"t": "Intensity (a.u.)"}]},
 "mark": {"type": "text", "align": "center", "baseline": "middle", "angle": 270, "fontSize": 28},
 "encoding": {"text": {"field": "t"}, "x": {"datum": 537.5, "scale": {"domain": [511.33, 536], "reverse": true, "nice": false, "zero": false}},
  "y": {"datum": 196.5, "scale": {"domain": [0, 393], "nice": false, "zero": false}, "axis": null}}},
{"data": {"values": [{"t": "28.3 nm"}]},
 "mark": {"type": "text", "align": "left", "baseline": "alphabetic", "fontSize": 28},
 "encoding": {"text": {"field": "t"}, "x": {"datum": 535.47, "scale": {"domain": [511.33, 536], "reverse": true, "nice": false, "zero": false}},
  "y": {"datum": 324.3, "scale": {"domain": [0, 393], "nice": false, "zero": false}, "axis": null}}},
{"data": {"values": [{"t": "O"}]},
 "mark": {"type": "text", "align": "left", "baseline": "alphabetic", "fontSize": 29},
 "encoding": {"text": {"field": "t"}, "x": {"datum": 532.79, "scale": {"domain": [511.33, 536], "reverse": true, "nice": false, "zero": false}},
  "y": {"datum": 44, "scale": {"domain": [0, 393], "nice": false, "zero": false}, "axis": null}}},
{"data": {"values": [{"t": "@V-O"}]},
 "mark": {"type": "text", "align": "left", "baseline": "alphabetic", "fontSize": 19.5},
 "encoding": {"text": {"field": "t"}, "x": {"datum": 531.71, "scale": {"domain": [511.33, 536], "reverse": true, "nice": false, "zero": false}},
  "y": {"datum": 36, "scale": {"domain": [0, 393], "nice": false, "zero": false}, "axis": null}}},
{"data": {"values": [{"t": ": V = 1.87 (±0.01)"}]},
 "mark": {"type": "text", "align": "left", "baseline": "alphabetic", "fontSize": 29},
 "encoding": {"text": {"field": "t"}, "x": {"datum": 528.75, "scale": {"domain": [511.33, 536], "reverse": true, "nice": false, "zero": false}},
  "y": {"datum": 44, "scale": {"domain": [0, 393], "nice": false, "zero": false}, "axis": null}}}
]
}
]
}
